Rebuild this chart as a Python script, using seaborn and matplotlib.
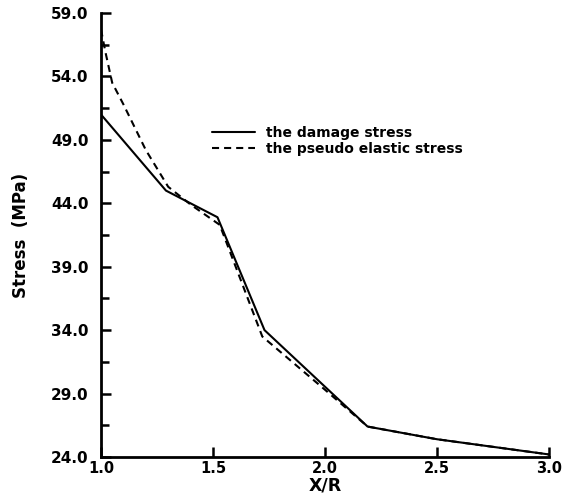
import numpy as np
import pandas as pd
import matplotlib
matplotlib.use("Agg")
import matplotlib.pyplot as plt
import seaborn as sns
from matplotlib.ticker import FixedLocator, FormatStrFormatter
from matplotlib.lines import Line2D

# Data
x_damage = [1.0, 1.29, 1.52, 1.73, 2.19, 2.5, 3.0]
y_damage = [51.0, 45.0, 42.9, 34.0, 26.4, 25.4, 24.2]

x_pseudo = [1.0, 1.02, 1.05, 1.10, 1.20, 1.30, 1.40, 1.53, 1.72, 2.0, 2.19, 2.5, 3.0]
y_pseudo = [57.7, 55.9, 53.5, 51.8, 48.2, 45.3, 43.9, 42.3, 33.5, 29.3, 26.4, 25.4, 24.2]

label_damage = "the damage stress"
label_pseudo = "the pseudo elastic stress"

x_ticks = [1.0, 1.5, 2.0, 2.5, 3.0]
y_ticks = [24.0, 29.0, 34.0, 39.0, 44.0, 49.0, 54.0, 59.0]
y_minor = [26.5, 31.5, 36.5, 41.5, 46.5, 51.5, 56.5]

sns.set_style("ticks")
plt.rcParams['font.family'] = ['DejaVu Sans']
plt.rcParams['text.color'] = 'black'
plt.rcParams['axes.labelcolor'] = 'black'

df = pd.concat([
    pd.DataFrame({"x": x_damage, "y": y_damage, "series": label_damage}),
    pd.DataFrame({"x": x_pseudo, "y": y_pseudo, "series": label_pseudo}),
])

fig = plt.figure(figsize=(5.62, 5.01), dpi=100)
ax = fig.add_axes([101/562, 1-457/501, 448/562, 444/501])

sns.lineplot(data=df, x="x", y="y", style="series", color="black",
             dashes={label_damage: "", label_pseudo: (3.4, 2.4)},
             linewidth=1.5, sort=False, ax=ax, estimator=None, legend=False)

ax.set_xlim(1.0, 3.0)
ax.set_ylim(24.0, 59.0)
ax.set_xticks(x_ticks)
ax.set_yticks(y_ticks)
ax.xaxis.set_major_formatter(FormatStrFormatter("%.1f"))
ax.yaxis.set_major_formatter(FormatStrFormatter("%.1f"))
ax.yaxis.set_minor_locator(FixedLocator(y_minor))

for s in ["top", "right"]:
    ax.spines[s].set_visible(False)
for s in ["left", "bottom"]:
    ax.spines[s].set_linewidth(2.0)
    ax.spines[s].set_color("black")

ax.tick_params(axis="y", which="major", direction="in", length=7.5, width=1.8,
               labelsize=11, pad=9, colors="black")
ax.tick_params(axis="y", which="minor", direction="in", length=6, width=1.8,
               colors="black")
ax.tick_params(axis="x", which="major", direction="in", length=7, width=1.8,
               labelsize=10.5, pad=3, colors="black")
for lab in ax.get_xticklabels() + ax.get_yticklabels():
    lab.set_fontweight("bold")

ax.set_xlabel("X/R", fontsize=12.5, fontweight="bold", labelpad=0, color="black")
ax.set_ylabel("Stress  (MPa)", fontsize=12, fontweight="bold", labelpad=15,
              color="black")

handles = [Line2D([], [], color="black", lw=1.5),
           Line2D([], [], color="black", lw=1.5, dashes=(3.4, 2.4))]
leg = ax.legend(handles, [label_damage, label_pseudo], loc="upper left",
                bbox_to_anchor=((212-101)/448, (457-126)/444), frameon=False,
                borderpad=0, borderaxespad=0, handlelength=3.1, handletextpad=0.8,
                labelspacing=0.15, prop={"size": 10, "weight": "bold"})
for t in leg.get_texts():
    t.set_color("black")

fig.savefig("out.png", dpi=100)
